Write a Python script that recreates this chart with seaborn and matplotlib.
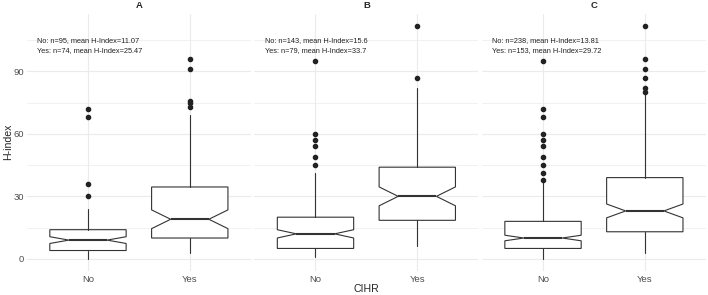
import matplotlib
matplotlib.use('Agg')
import numpy as np
import matplotlib.pyplot as plt
import seaborn as sns

# Panels and groups
panels = ['A', 'B', 'C']
groups = ['No', 'Yes']

# Counts and means shown in the annotations
n_no = [95, 143, 238]
n_yes = [74, 79, 153]
mean_no = [11.07, 15.6, 13.81]
mean_yes = [25.47, 33.7, 29.72]

# Box summaries: lower whisker, Q1, median, Q3, upper whisker
stats_no = [[0, 4, 9, 14, 24], [1, 5, 12, 20, 41], [0, 5, 10, 18, 37]]
stats_yes = [[3, 10, 19, 34.5, 69], [6, 18.5, 30, 44, 82], [3, 13, 23, 39, 79]]
outliers_no = [[30, 36, 68, 72],
               [45, 49, 54, 57, 60, 95],
               [38, 41, 45, 49, 54, 57, 60, 68, 72, 95]]
outliers_yes = [[73, 75, 76, 91, 96],
                [87, 112],
                [80, 82, 87, 91, 96, 112]]

sns.set_theme(style='whitegrid')
plt.rcParams['font.family'] = ['Liberation Sans', 'DejaVu Sans']


def box_stats(s, fl, n, label):
    lo, q1, med, q3, hi = s
    half = 1.58 * (q3 - q1) / np.sqrt(n)  # notch as in ggplot
    return dict(label=label, whislo=lo, q1=q1, med=med, q3=q3, whishi=hi,
                fliers=fl, cilo=med - half, cihi=med + half)


fig, axes = plt.subplots(1, 3, figsize=(7.08, 2.95), dpi=100, sharey=True)
plt.subplots_adjust(left=0.038, right=0.997, bottom=0.083, top=0.953, wspace=0.016)

line_col = '#333333'
for i, ax in enumerate(axes):
    bstats = [box_stats(stats_no[i], outliers_no[i], n_no[i], groups[0]),
              box_stats(stats_yes[i], outliers_yes[i], n_yes[i], groups[1])]
    ax.bxp(bstats, positions=[0, 1], widths=0.75, shownotches=True,
           showcaps=False, patch_artist=True,
           boxprops=dict(facecolor='white', edgecolor=line_col, linewidth=0.8),
           whiskerprops=dict(color=line_col, linewidth=0.8),
           medianprops=dict(color=line_col, linewidth=1.5),
           flierprops=dict(marker='o', markerfacecolor='#222222',
                           markeredgecolor='#222222', markersize=3))

    ax.set_xlim(-0.6, 1.6)
    ax.set_ylim(-5.6, 117.6)
    ax.set_yticks([0, 30, 60, 90])
    ax.set_yticks([15, 45, 75, 105], minor=True)
    ax.set_xticks([0, 1])
    ax.set_xticklabels(groups)
    ax.grid(which='major', color='#EBEBEB', linewidth=0.8)
    ax.grid(which='minor', axis='y', color='#EBEBEB', linewidth=0.5)
    ax.set_facecolor('white')
    for sp in ax.spines.values():
        sp.set_visible(False)
    ax.tick_params(axis='both', which='both', length=0, labelsize=6.8,
                   labelcolor='#4D4D4D')
    ax.tick_params(axis='y', pad=2)
    ax.tick_params(axis='x', pad=3)
    ax.set_title(panels[i], fontsize=6.8, fontweight='bold', pad=4)
    ax.set_axisbelow(True)

    ax.text(-0.5, 105, f'No: n={n_no[i]}, mean H-Index={mean_no[i]:g}',
            ha='left', va='center', fontsize=5.3, color='#222222')
    ax.text(-0.5, 100, f'Yes: n={n_yes[i]}, mean H-Index={mean_yes[i]:g}',
            ha='left', va='center', fontsize=5.3, color='#222222')

fig.text(0.5177, 0.022, 'CIHR', ha='center', va='center', fontsize=7.6)
fig.text(0.012, 0.52, 'H-index', ha='center', va='center', rotation=90, fontsize=7.6)

plt.savefig('out.png', dpi=100)
